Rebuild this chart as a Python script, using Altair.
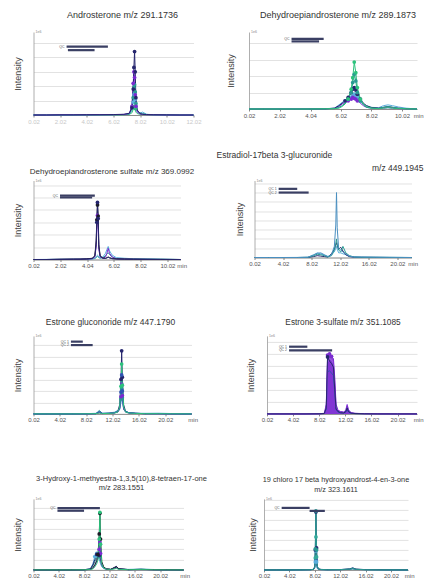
import altair as alt
import pandas as pd

# ---------------- colours of the overlaid sample traces ----------------
SERIES_NAMES = ["black", "navy", "blue", "purple", "violet", "teal", "teal2", "green", "lightblue", "steel"]
SERIES_COLORS = ["#1c1c28", "#26266e", "#2f55b5", "#7a2bd0", "#9d5ee6", "#2a9a92", "#33a99a", "#2cc27c", "#5aaedc", "#4a8fc0"]

# ---------------- panel 1 : Androsterone ----------------
P1_TIME = [0.02, 1.0, 2.0, 3.0, 4.0, 5.0, 6.0, 6.8, 7.2, 7.4, 7.5, 7.55, 7.6, 7.65, 7.7, 7.8, 8.0, 8.2, 8.5, 9.0, 10.0, 11.0, 12.02]
P1_NAVY = [0, 0, 0.01, 0.01, 0.02, 0.02, 0.03, 0.05, 0.12, 0.5, 1.8, 3.3, 4.4, 3.0, 1.2, 0.35, 0.1, 0.05, 0.03, 0.02, 0.01, 0, 0]
P1_PURPLE = [0, 0, 0.01, 0.01, 0.01, 0.02, 0.02, 0.04, 0.1, 0.6, 2.2, 3.0, 2.6, 1.4, 0.6, 0.2, 0.08, 0.04, 0.02, 0.01, 0, 0, 0]
P1_TEAL = [0, 0, 0, 0.01, 0.01, 0.02, 0.02, 0.03, 0.08, 0.4, 1.2, 1.9, 2.1, 1.6, 0.8, 0.3, 0.15, 0.1, 0.04, 0.02, 0.01, 0, 0]
P1_LIGHTBLUE = [0, 0, 0, 0, 0.01, 0.01, 0.02, 0.03, 0.06, 0.3, 0.9, 1.4, 1.5, 1.1, 0.6, 0.25, 0.12, 0.2, 0.05, 0.02, 0.01, 0, 0]
P1_GREEN = [0, 0, 0, 0, 0, 0.01, 0.01, 0.02, 0.04, 0.15, 0.4, 0.55, 0.6, 0.45, 0.2, 0.1, 0.05, 0.03, 0.02, 0.01, 0, 0, 0]
P1_XTICKS = [0.02, 2.02, 4.02, 6.02, 8.02, 10.02, 12.02]
P1_LEG_X1 = [2.5, 2.6]
P1_LEG_X2 = [5.6, 4.6]
P1_LEG_Y = [4.75, 4.5]
P1_LEG_LABEL = ["QC", ""]

# ---------------- panel 2 : Dehydroepiandrosterone ----------------
P2_TIME = [0.02, 1.0, 2.0, 3.0, 4.0, 5.0, 5.6, 5.9, 6.1, 6.3, 6.5, 6.7, 6.8, 6.9, 7.0, 7.1, 7.3, 7.5, 7.7, 8.0, 8.5, 8.8, 9.1, 9.4, 9.8, 10.3, 11.0]
P2_GREEN = [0, 0, 0, 0, 0, 0.01, 0.02, 0.05, 0.15, 0.3, 0.6, 1.2, 1.9, 2.85, 2.2, 1.3, 0.6, 0.3, 0.15, 0.06, 0.03, 0.05, 0.08, 0.05, 0.03, 0.01, 0]
P2_TEAL = [0, 0, 0, 0, 0, 0.01, 0.02, 0.1, 0.2, 0.35, 0.6, 1.0, 1.6, 2.1, 1.7, 1.0, 0.5, 0.25, 0.1, 0.05, 0.03, 0.1, 0.15, 0.1, 0.04, 0.01, 0]
P2_NAVY = [0, 0, 0, 0, 0, 0.01, 0.05, 0.2, 0.35, 0.5, 0.7, 1.0, 1.2, 1.3, 1.15, 0.9, 0.6, 0.35, 0.2, 0.1, 0.05, 0.1, 0.15, 0.1, 0.05, 0.02, 0]
P2_PURPLE = [0, 0, 0, 0, 0, 0.01, 0.04, 0.15, 0.3, 0.4, 0.5, 0.6, 0.7, 0.65, 0.6, 0.5, 0.35, 0.2, 0.1, 0.06, 0.03, 0.05, 0.08, 0.05, 0.02, 0.01, 0]
P2_LIGHTBLUE = [0, 0, 0, 0, 0.01, 0.02, 0.05, 0.25, 0.4, 0.5, 0.55, 0.7, 0.8, 0.9, 0.8, 0.7, 0.5, 0.3, 0.2, 0.1, 0.08, 0.2, 0.25, 0.2, 0.12, 0.05, 0]
P2_XTICKS = [0.02, 2.02, 4.04, 6.02, 8.02, 10.02]
P2_LEG_X1 = [2.8, 2.8]
P2_LEG_X2 = [4.9, 4.6]
P2_LEG_Y = [4.25, 4.1]
P2_LEG_LABEL = ["QC", ""]

# ---------------- panel 3 : Dehydroepiandrosterone sulfate ----------------
P3_TIME = [0.02, 1.0, 2.0, 3.0, 3.5, 4.0, 4.4, 4.6, 4.7, 4.75, 4.8, 4.85, 4.9, 5.0, 5.2, 5.4, 5.5, 5.6, 5.7, 5.9, 6.2, 6.8, 7.5, 8.5, 9.5, 11.0]
P3_BLACK = [0, 0, 0.02, 0.03, 0.03, 0.05, 0.1, 0.3, 1.5, 3.2, 4.4, 3.5, 1.2, 0.3, 0.12, 0.1, 0.15, 0.2, 0.15, 0.08, 0.05, 0.04, 0.03, 0.02, 0.01, 0]
P3_NAVY = [0, 0, 0.01, 0.02, 0.03, 0.04, 0.08, 0.25, 1.2, 3.0, 4.6, 3.3, 1.0, 0.25, 0.1, 0.08, 0.12, 0.18, 0.12, 0.06, 0.04, 0.03, 0.02, 0.01, 0.01, 0]
P3_PURPLE = [0, 0, 0.01, 0.02, 0.02, 0.04, 0.06, 0.2, 1.0, 2.4, 3.55, 2.6, 0.8, 0.2, 0.1, 0.2, 0.5, 0.9, 0.5, 0.2, 0.06, 0.03, 0.02, 0.01, 0, 0]
P3_LIGHTBLUE = [0, 0.01, 0.02, 0.03, 0.03, 0.05, 0.06, 0.1, 0.2, 0.3, 0.35, 0.3, 0.2, 0.15, 0.2, 0.5, 0.8, 1.05, 0.7, 0.35, 0.15, 0.1, 0.06, 0.05, 0.03, 0]
P3_TEAL = [0, 0, 0.01, 0.02, 0.02, 0.03, 0.04, 0.08, 0.15, 0.2, 0.25, 0.2, 0.15, 0.1, 0.15, 0.3, 0.45, 0.55, 0.4, 0.2, 0.08, 0.05, 0.04, 0.03, 0.02, 0]
P3_XTICKS = [0.02, 2.02, 4.04, 6.02, 8.02, 10.02]
P3_LEG_X1 = [2.0, 2.0]
P3_LEG_X2 = [4.6, 4.4]
P3_LEG_Y = [5.15, 5.0]
P3_LEG_LABEL = ["QC", ""]

# ---------------- panel 4 : Estradiol-17beta 3-glucuronide ----------------
P4_TIME = [0.02, 2, 4, 6, 7.5, 8.3, 8.8, 9.3, 9.8, 10.3, 10.8, 11.2, 11.4, 11.5, 11.6, 11.8, 12.1, 12.4, 12.8, 13.3, 14, 15, 17, 19, 22]
P4_STEEL = [0, 0, 0, 0, 0.02, 0.3, 0.45, 0.5, 0.3, 0.1, 0.3, 1.2, 3.5, 7.0, 3.2, 1.0, 0.8, 0.6, 0.4, 0.15, 0.05, 0.05, 0.03, 0.02, 0]
P4_TEAL = [0, 0, 0, 0, 0.02, 0.2, 0.35, 0.3, 0.2, 0.05, 0.2, 0.8, 1.5, 2.0, 1.4, 0.8, 0.6, 1.2, 0.5, 0.2, 0.05, 0.02, 0.02, 0.01, 0]
P4_NAVY = [0, 0, 0, 0, 0.01, 0.1, 0.2, 0.15, 0.1, 0.05, 0.4, 0.9, 1.4, 1.6, 1.3, 0.9, 1.1, 0.7, 0.3, 0.1, 0.03, 0.02, 0.01, 0, 0]
P4_LIGHTBLUE = [0, 0, 0, 0.01, 0.02, 0.25, 0.5, 0.4, 0.25, 0.1, 0.3, 0.6, 1.0, 1.2, 0.9, 0.5, 0.5, 0.4, 0.3, 0.1, 0.05, 0.03, 0.02, 0.01, 0]
P4_XTICKS = [0.02, 4.02, 8.02, 12.02, 16.02, 20.02]
P4_LEG_X1 = [3.4, 3.4]
P4_LEG_X2 = [6.0, 7.6]
P4_LEG_Y = [7.4, 7.0]
P4_LEG_LABEL = ["QC 1", "QC 2"]

# ---------------- panel 5 : Estrone gluconoride ----------------
P5_TIME = [0.02, 2, 4, 6, 8, 9.5, 10, 10.5, 11.5, 12.3, 12.8, 13.1, 13.3, 13.4, 13.5, 13.7, 14.0, 14.5, 15.5, 17, 19, 21, 24]
P5_NAVY = [0, 0, 0, 0, 0.01, 0.02, 0.1, 0.03, 0.05, 0.1, 0.2, 0.8, 3.0, 5.5, 3.2, 0.8, 0.2, 0.1, 0.05, 0.02, 0.03, 0.01, 0]
P5_GREEN = [0, 0, 0, 0, 0.01, 0.02, 0.08, 0.03, 0.04, 0.08, 0.15, 0.6, 2.4, 4.35, 2.5, 0.6, 0.15, 0.08, 0.04, 0.02, 0.02, 0.01, 0]
P5_BLUE = [0, 0, 0, 0, 0.01, 0.03, 0.2, 0.05, 0.05, 0.1, 0.2, 0.5, 1.9, 3.4, 2.0, 0.5, 0.2, 0.1, 0.05, 0.02, 0.02, 0.01, 0]
P5_PURPLE = [0, 0, 0, 0, 0.01, 0.02, 0.15, 0.03, 0.04, 0.08, 0.15, 0.4, 1.5, 2.6, 1.6, 0.4, 0.15, 0.08, 0.04, 0.02, 0.01, 0, 0]
P5_TEAL = [0, 0, 0, 0, 0.01, 0.02, 0.3, 0.04, 0.05, 0.1, 0.2, 0.4, 1.3, 2.2, 1.4, 0.4, 0.2, 0.1, 0.05, 0.02, 0.02, 0.01, 0]
P5_LIGHTBLUE = [0, 0, 0, 0.01, 0.02, 0.05, 0.2, 0.05, 0.08, 0.15, 0.3, 0.5, 1.0, 1.5, 1.1, 0.5, 0.25, 0.1, 0.06, 0.05, 0.06, 0.03, 0]
P5_XTICKS = [0.02, 4.02, 8.02, 12.02, 16.02, 20.02]
P5_LEG_X1 = [5.7, 5.7]
P5_LEG_X2 = [7.5, 9.0]
P5_LEG_Y = [6.3, 6.0]
P5_LEG_LABEL = ["QC 1", "QC 2"]

# ---------------- panel 6 : Estrone 3-sulfate ----------------
P6_TIME = [0.02, 2, 4, 6, 8, 8.8, 9.1, 9.3, 9.6, 9.9, 10.2, 10.4, 10.6, 10.9, 11.3, 11.8, 12.1, 12.3, 12.5, 12.9, 13.5, 15, 17, 20, 23]
P6_PURPLE = [0, 0, 0, 0, 0.01, 0.05, 0.8, 4.9, 5.0, 4.8, 4.6, 3.0, 0.8, 0.3, 0.2, 0.15, 0.3, 0.7, 0.3, 0.1, 0.05, 0.02, 0.01, 0, 0]
P6_VIOLET = [0, 0, 0, 0, 0.01, 0.04, 0.6, 4.3, 4.6, 4.5, 4.2, 2.6, 0.6, 0.25, 0.15, 0.12, 0.35, 0.8, 0.35, 0.1, 0.04, 0.02, 0.01, 0, 0]
P6_NAVY = [0, 0, 0, 0, 0.01, 0.03, 0.5, 4.75, 4.4, 4.2, 3.9, 2.0, 0.4, 0.2, 0.1, 0.08, 0.2, 0.5, 0.2, 0.06, 0.03, 0.01, 0, 0, 0]
P6_BLUE = [0, 0, 0, 0, 0.01, 0.03, 0.4, 3.5, 3.6, 3.4, 3.2, 1.8, 0.4, 0.15, 0.1, 0.08, 0.15, 0.4, 0.15, 0.05, 0.02, 0.01, 0, 0, 0]
P6_XTICKS = [0.02, 4.02, 8.02, 12.02, 16.02, 20.02]
P6_LEG_X1 = [3.4, 3.4]
P6_LEG_X2 = [6.2, 10.0]
P6_LEG_Y = [5.6, 5.3]
P6_LEG_LABEL = ["QC 1", "QC 2"]

# ---------------- panel 7 : 3-Hydroxy-1-methyestra... ----------------
P7_TIME = [0.02, 2, 4, 6, 8, 9.0, 9.4, 9.7, 10.0, 10.2, 10.4, 10.5, 10.6, 10.8, 11.1, 11.5, 12.2, 12.8, 13.1, 13.5, 15, 17, 19, 21, 23.7]
P7_BLACK = [0, 0, 0, 0, 0.01, 0.05, 0.2, 0.5, 0.9, 1.5, 3.5, 5.5, 3.0, 0.8, 0.3, 0.1, 0.05, 0.2, 0.3, 0.1, 0.03, 0.05, 0.02, 0.01, 0]
P7_GREEN = [0, 0, 0, 0, 0.01, 0.03, 0.1, 0.3, 0.6, 1.0, 3.0, 5.6, 2.5, 0.6, 0.2, 0.08, 0.04, 0.1, 0.15, 0.05, 0.02, 0.03, 0.01, 0, 0]
P7_PURPLE = [0, 0, 0, 0, 0.01, 0.04, 0.15, 0.4, 0.8, 1.2, 2.0, 2.7, 1.6, 0.5, 0.2, 0.08, 0.04, 0.15, 0.2, 0.08, 0.02, 0.03, 0.01, 0, 0]
P7_NAVY = [0, 0, 0, 0, 0.02, 0.1, 0.5, 1.0, 1.5, 1.2, 1.4, 1.6, 1.1, 0.6, 0.25, 0.1, 0.05, 0.25, 0.35, 0.1, 0.03, 0.05, 0.02, 0.01, 0]
P7_TEAL = [0, 0, 0, 0, 0.01, 0.08, 0.4, 0.8, 1.2, 1.5, 1.3, 1.1, 0.8, 0.4, 0.15, 0.06, 0.04, 0.2, 0.3, 0.08, 0.02, 0.06, 0.03, 0.01, 0]
P7_LIGHTBLUE = [0, 0, 0, 0.01, 0.02, 0.1, 0.6, 1.3, 1.6, 1.4, 1.0, 0.8, 0.6, 0.3, 0.15, 0.06, 0.05, 0.2, 0.25, 0.1, 0.05, 0.08, 0.04, 0.02, 0]
P7_XTICKS = [0.02, 4.02, 8.02, 12.02, 16.02, 20.02]
P7_LEG_X1 = [3.8, 3.8]
P7_LEG_X2 = [10.5, 8.0]
P7_LEG_Y = [6.0, 5.75]
P7_LEG_LABEL = ["QC", ""]

# ---------------- panel 8 : 19 chloro 17 beta hydroxyandrost-4-en-3-one ----------------
P8_TIME = [0.02, 2, 4, 6, 7.3, 7.8, 8.0, 8.1, 8.2, 8.3, 8.4, 8.6, 9.0, 10, 12, 13.5, 14, 14.5, 16, 18, 20, 22.7]
P8_NAVY = [0, 0, 0, 0.01, 0.02, 0.05, 0.3, 2.0, 5.8, 2.2, 0.4, 0.1, 0.05, 0.02, 0.03, 0.1, 0.2, 0.08, 0.03, 0.02, 0.01, 0]
P8_TEAL = [0, 0, 0, 0.01, 0.02, 0.05, 0.3, 2.1, 5.9, 2.0, 0.4, 0.1, 0.04, 0.02, 0.03, 0.08, 0.15, 0.06, 0.02, 0.01, 0.01, 0]
P8_TEAL2 = [0, 0, 0, 0.01, 0.02, 0.04, 0.2, 1.2, 3.3, 1.3, 0.3, 0.08, 0.03, 0.02, 0.02, 0.06, 0.12, 0.05, 0.02, 0.01, 0, 0]
P8_LIGHTBLUE = [0, 0, 0, 0.01, 0.02, 0.04, 0.15, 0.8, 1.9, 0.8, 0.2, 0.06, 0.03, 0.02, 0.03, 0.08, 0.2, 0.06, 0.03, 0.02, 0.01, 0]
P8_BLUE = [0, 0, 0, 0.01, 0.02, 0.05, 0.2, 0.5, 1.0, 0.5, 0.15, 0.05, 0.02, 0.01, 0.02, 0.05, 0.1, 0.04, 0.02, 0.01, 0, 0]
P8_XTICKS = [0.02, 4.02, 8.02, 12.02, 16.02, 20.02]
P8_LEG_X1 = [2.8, 7.2]
P8_LEG_X2 = [7.2, 9.6]
P8_LEG_Y = [6.2, 5.9]
P8_LEG_LABEL = ["QC", ""]

TOP_LABEL = "1e6"
FONT = "Liberation Sans"


def long_df(time, series):
    rows = []
    for name, vals in series.items():
        for t, v in zip(time, vals):
            rows.append({"time": t, "value": v, "series": name})
    return pd.DataFrame(rows)


def make_panel(time, series, xdom, xticks, ydom, w, h, title, tsize, tdx, toff, ytp,
               leg, thr, area=(), faint=False, anchor="middle", extra=None):
    df = long_df(time, series)
    color = alt.Color("series:N", scale=alt.Scale(domain=SERIES_NAMES, range=SERIES_COLORS), legend=None)
    lab_color = "#c8c8c8" if faint else "#555555"
    x_axis = alt.Axis(values=xticks, labelExpr="format(datum.value, '.2f')", labelFontSize=6,
                      labelColor=lab_color, labelPadding=1, labelOverlap=False, labelFlush=False, tickSize=2,
                      tickColor="#888888", domainColor="#777777", domainWidth=0.8, grid=False,
                      title="" if faint else "min", titleFontSize=6, titleFontWeight="normal",
                      titleColor=lab_color, titleAnchor="end", titleAlign="right", titleX=w + 6, titleY=3,
                      titleBaseline="top")
    yticks = list(range(0, int(ydom[1]) + 1))
    y_axis = alt.Axis(values=yticks, labels=False, ticks=False, grid=True, gridColor="#d6d6d6",
                      gridWidth=0.7, domainColor="#9a9a9a", domainWidth=0.8, title="Intensity",
                      titleFontSize=9, titleFontWeight="normal", titleColor="#444444", titlePadding=ytp)
    xs = alt.Scale(domain=xdom, nice=False, zero=False)
    ys = alt.Scale(domain=ydom, nice=False)
    x = alt.X("time:Q", scale=xs, axis=x_axis)
    y = alt.Y("value:Q", scale=ys, axis=y_axis, stack=None)
    base = alt.Chart(df)
    layers = []
    if area:
        layers.append(
            base.transform_filter(alt.FieldOneOfPredicate(field="series", oneOf=list(area)))
            .mark_area(opacity=0.85)
            .encode(x=x, y=y, color=color)
        )
    layers.append(base.mark_line(strokeWidth=1).encode(x=x, y=y, color=color, detail="series:N"))
    layers.append(
        base.transform_filter(alt.datum.value >= thr)
        .mark_circle(size=14, opacity=1)
        .encode(x=x, y=y, color=color)
    )
    x1, x2, ly, lbl = leg
    ldf = pd.DataFrame({"x1": x1, "x2": x2, "y": ly, "label": lbl})
    layers.append(
        alt.Chart(ldf).mark_rule(strokeWidth=2.2, color="#3a3f63")
        .encode(x=alt.X("x1:Q", scale=xs, axis=x_axis), x2="x2:Q", y=alt.Y("y:Q", scale=ys, axis=y_axis))
    )
    layers.append(
        alt.Chart(ldf).mark_text(fontSize=3.5, align="right", baseline="middle", dx=-2, color="#555555")
        .encode(x=alt.X("x1:Q", scale=xs, axis=x_axis), y=alt.Y("y:Q", scale=ys, axis=y_axis), text="label:N")
    )
    tdf = pd.DataFrame({"x": [xdom[0]], "y": [ydom[1]], "t": [TOP_LABEL]})
    layers.append(
        alt.Chart(tdf).mark_text(fontSize=3.5, align="left", baseline="middle", dx=2, color="#888888")
        .encode(x=alt.X("x:Q", scale=xs, axis=x_axis), y=alt.Y("y:Q", scale=ys, axis=y_axis), text="t:N")
    )
    if extra is not None:
        edf = pd.DataFrame({"t": [extra]})
        layers.append(
            alt.Chart(edf).mark_text(fontSize=tsize, align="right", baseline="middle", color="#333333")
            .encode(x=alt.value(w + 12), y=alt.value(-13), text="t:N")
        )
    return alt.layer(*layers).properties(
        width=w, height=h,
        title=alt.TitleParams(text=title, fontSize=tsize, fontWeight="normal", color="#333333",
                              anchor=anchor, dx=tdx, offset=toff, font=FONT),
    )


p1 = make_panel(P1_TIME, {"lightblue": P1_LIGHTBLUE, "green": P1_GREEN, "teal": P1_TEAL,
                          "purple": P1_PURPLE, "navy": P1_NAVY},
                [0.02, 12.02], P1_XTICKS, [0, 5.76], 160, 83, "Androsterone m/z 291.1736", 9, 9, 10, 11.5,
                (P1_LEG_X1, P1_LEG_X2, P1_LEG_Y, P1_LEG_LABEL), 0.45, faint=True)
p2 = make_panel(P2_TIME, {"lightblue": P2_LIGHTBLUE, "purple": P2_PURPLE, "navy": P2_NAVY,
                          "teal": P2_TEAL, "green": P2_GREEN},
                [0.02, 11.0], P2_XTICKS, [0, 4.67], 168, 77, "Dehydroepiandrosterone m/z 289.1873", 9, 5, 10, 13.5,
                (P2_LEG_X1, P2_LEG_X2, P2_LEG_Y, P2_LEG_LABEL), 0.45)
p3 = make_panel(P3_TIME, {"teal": P3_TEAL, "lightblue": P3_LIGHTBLUE, "purple": P3_PURPLE,
                          "black": P3_BLACK, "navy": P3_NAVY},
                [0.02, 11.0], P3_XTICKS, [0, 6.37], 147, 79, "Dehydroepiandrosterone sulfate m/z 369.0992", 8, 5, 3, 11.5,
                (P3_LEG_X1, P3_LEG_X2, P3_LEG_Y, P3_LEG_LABEL), 3.0)
p4 = make_panel(P4_TIME, {"lightblue": P4_LIGHTBLUE, "navy": P4_NAVY, "teal": P4_TEAL, "steel": P4_STEEL},
                [0.02, 22.0], P4_XTICKS, [0, 8.3], 157, 77, "Estradiol-17beta 3-glucuronide", 8.5, -18.5, 4, 10.5,
                (P4_LEG_X1, P4_LEG_X2, P4_LEG_Y, P4_LEG_LABEL), 99, anchor="start", extra="m/z 449.1945")
p5 = make_panel(P5_TIME, {"lightblue": P5_LIGHTBLUE, "navy": P5_NAVY, "teal": P5_TEAL, "purple": P5_PURPLE,
                          "blue": P5_BLUE, "green": P5_GREEN},
                [0.02, 24.0], P5_XTICKS, [0, 6.8], 158, 78, "Estrone gluconoride m/z 447.1790", 8.5, -2, 7, 11.5,
                (P5_LEG_X1, P5_LEG_X2, P5_LEG_Y, P5_LEG_LABEL), 1.2)
p6 = make_panel(P6_TIME, {"blue": P6_BLUE, "violet": P6_VIOLET, "purple": P6_PURPLE, "navy": P6_NAVY},
                [0.02, 23.0], P6_XTICKS, [0, 6.5], 150, 78, "Estrone 3-sulfate m/z 351.1085", 8.3, 1, 8, 11.5,
                (P6_LEG_X1, P6_LEG_X2, P6_LEG_Y, P6_LEG_LABEL), 4.7, area=("purple", "violet"))
p7 = make_panel(P7_TIME, {"lightblue": P7_LIGHTBLUE, "teal": P7_TEAL, "navy": P7_NAVY, "purple": P7_PURPLE,
                          "black": P7_BLACK, "green": P7_GREEN},
                [0.02, 23.7], P7_XTICKS, [0, 6.9], 150, 71,
                ["3-Hydroxy-1-methyestra-1,3,5(10),8-tetraen-17-one", "m/z 283.1551"], 7.5, 13, 5, 11.5,
                (P7_LEG_X1, P7_LEG_X2, P7_LEG_Y, P7_LEG_LABEL), 1.3)
p8 = make_panel(P8_TIME, {"blue": P8_BLUE, "lightblue": P8_LIGHTBLUE, "teal2": P8_TEAL2, "navy": P8_NAVY,
                          "teal": P8_TEAL},
                [0.02, 22.7], P8_XTICKS, [0, 7.1], 144, 71,
                ["19 chloro 17 beta hydroxyandrost-4-en-3-one", "m/z 323.1611"], 7.3, 0, 4, 6.5,
                (P8_LEG_X1, P8_LEG_X2, P8_LEG_Y, P8_LEG_LABEL), 0.8)

row1 = alt.hconcat(p1, p2, spacing=24.5)
row2 = alt.hconcat(p3, p4, spacing=22)
row3 = alt.hconcat(p5, p6, spacing=48.5)
row4 = alt.hconcat(p7, p8, spacing=40.5)

top = alt.vconcat(row1, row2, spacing=26.5)
bottom = alt.vconcat(row3, row4, spacing=52)

chart = (
    alt.vconcat(top, bottom, spacing=47.9)
    .properties(padding={"left": 12.5, "top": 11, "right": 0, "bottom": 0})
    .configure(font=FONT)
    .configure_view(stroke=None)
)

chart.save("out.html", embed_options={"renderer": "svg", "actions": False})
